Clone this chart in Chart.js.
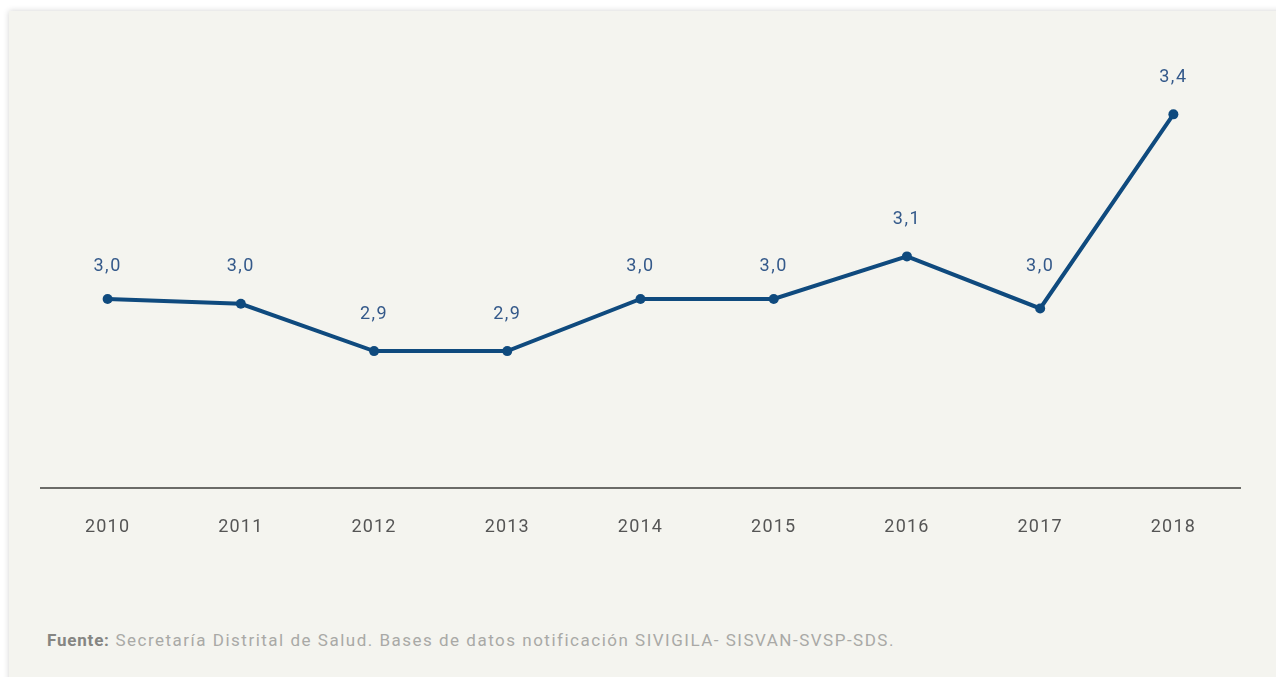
<!DOCTYPE html>
<html>
<head>
<meta charset="utf-8">
<script src="https://cdn.jsdelivr.net/npm/chart.js@4.4.1/dist/chart.umd.min.js"></script>
<style>
  html, body { margin: 0; padding: 0; background: #ffffff; }
  body { width: 1276px; height: 677px; position: relative; overflow: hidden; font-family: Roboto, 'Noto Sans', sans-serif; }
  .panel {
    position: absolute; left: 9px; top: 11px; width: 1290px; height: 700px;
    background: #f4f4ef; box-shadow: 0 0 6px rgba(0,0,0,0.18);
  }
  .chart-box { position: absolute; left: 0; top: 0; width: 1276px; height: 582px; }
  .fuente {
    position: absolute; left: 47px; top: 630px; font-size: 17px; color: #a9a9a6;
    letter-spacing: 1.5px;
  }
  .fuente b { color: #858582; font-weight: 700; letter-spacing: 0.8px; }
</style>
</head>
<body>
<div class="panel"></div>
<div class="chart-box"><canvas id="chart"></canvas></div>
<div class="fuente"><b>Fuente:</b> Secretaría Distrital de Salud. Bases de datos notificación SIVIGILA- SISVAN-SVSP-SDS.</div>

<script>
// Datos
const years = ['2010', '2011', '2012', '2013', '2014', '2015', '2016', '2017', '2018'];
const values = [3.01, 3.00, 2.90, 2.90, 3.01, 3.01, 3.10, 2.99, 3.40];

const lineColor = '#0f4a7e';

// Espaciado de letras para imitar la tipografía original
const letterSpacing = {
  id: 'letterSpacing',
  beforeDraw(chart) {
    chart.ctx.letterSpacing = '1.2px';
  }
};

// Etiquetas de valor sobre cada punto (formato con coma decimal)
const valueLabels = {
  id: 'valueLabels',
  afterDatasetsDraw(chart) {
    const ctx = chart.ctx;
    const meta = chart.getDatasetMeta(0);
    const yScale = chart.scales.y;
    ctx.save();
    ctx.font = '18px Roboto, "Noto Sans", sans-serif';
    ctx.letterSpacing = '1.5px';
    ctx.fillStyle = '#34598a';
    ctx.textAlign = 'center';
    ctx.textBaseline = 'middle';
    meta.data.forEach((pt, i) => {
      const rounded = Math.round(values[i] * 10) / 10;
      const y = yScale.getPixelForValue(rounded) - 37;
      ctx.fillText(rounded.toFixed(1).replace('.', ','), pt.x, y);
    });
    ctx.restore();
  }
};

new Chart(document.getElementById('chart'), {
  type: 'line',
  data: {
    labels: years,
    datasets: [{
      data: values,
      borderColor: lineColor,
      backgroundColor: lineColor,
      borderWidth: 4,
      pointRadius: 5,
      pointHoverRadius: 5,
      pointBorderWidth: 0,
      tension: 0
    }]
  },
  options: {
    responsive: true,
    maintainAspectRatio: false,
    animation: false,
    layout: {
      padding: { left: 41, right: 36, top: 67, bottom: 24 }
    },
    plugins: {
      legend: { display: false },
      tooltip: { enabled: false }
    },
    scales: {
      x: {
        offset: true,
        grid: { display: false },
        border: { display: true, color: '#6b6b68', width: 2 },
        ticks: {
          color: '#555555',
          padding: 20,
          font: { size: 18, family: 'Roboto, "Noto Sans", sans-serif' }
        }
      },
      y: {
        display: false,
        min: 2.61,
        max: 3.5
      }
    }
  },
  plugins: [letterSpacing, valueLabels]
});
</script>
</body>
</html>
